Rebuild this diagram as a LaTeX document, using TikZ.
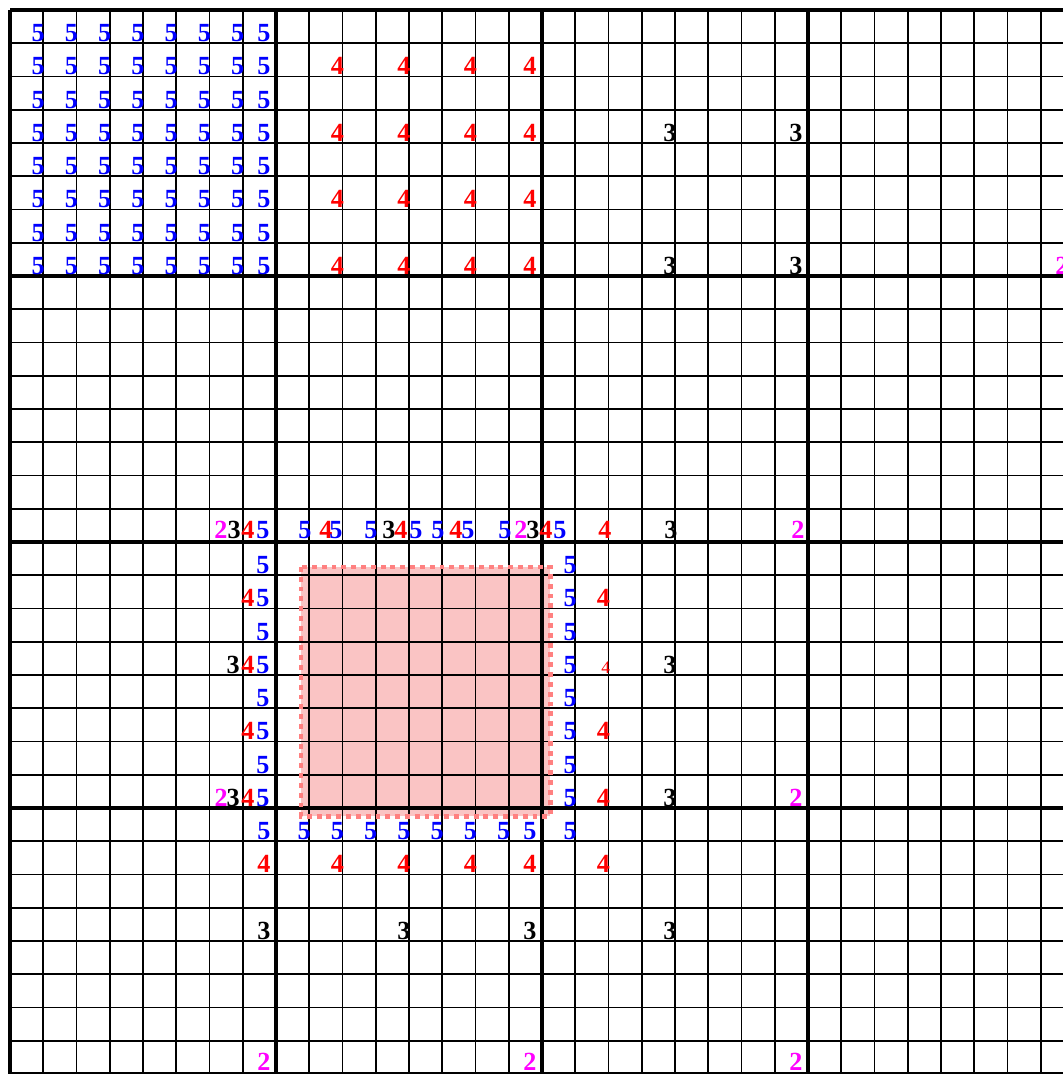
\documentclass[tikz,border=0pt]{standalone}
\usepackage{fontspec}
\setmainfont{Liberation Serif}
\newcommand{\digitfont}{\fontsize{11.2}{12}\selectfont\bfseries}
\definecolor{pinkfill}{RGB}{250,196,196}
\definecolor{pinkedge}{RGB}{255,128,128}
\definecolor{fiveblue}{RGB}{0,0,255}
\definecolor{fourred}{RGB}{255,0,0}
\definecolor{twomagenta}{RGB}{255,0,255}

\begin{document}
\begin{tikzpicture}[x=0.5cm, y=-0.5cm,
	thinline/.style={line width=0.75pt},
	thickline/.style={line width=1.8pt},
	digit/.style={anchor=base east, inner sep=0pt, font=\digitfont},
	lvfive/.style={digit, text=fiveblue},
	lvfour/.style={digit, text=fourred},
	lvthree/.style={digit, text=black},
	lvtwo/.style={digit, text=twomagenta}]
	
	\useasboundingbox (-0.3008,-0.3008) rectangle (31.669,32);
	\clip (-0.3008,-0.3008) rectangle (31.669,32);
	
	% Zielblock
	\fill[pinkfill] (8.75,16.75) rectangle (16.25,24.25);
	
	% feines Gitter
	\foreach \k in {0,...,32} {
		\draw[thinline] (\k,0) -- (\k,32);
		\draw[thinline] (0,\k) -- (32,\k);
	}
	% grobes Gitter
	\foreach \k in {0,8,...,32} {
		\draw[thickline] (\k,0) -- (\k,32);
		\draw[thickline] (0,\k) -- (32,\k);
	}
	
	% Rand Zielblock
	\draw[pinkedge, line width=2pt, dash pattern=on 2.1pt off 2.1pt] (8.75,16.75) rectangle (16.25,24.25);
	
	% Stufe 5 oben links
	\foreach \i in {1,...,8}
	\foreach \j in {1,...,8} {
		\pgfmathsetmacro{\px}{\i+ifthenelse(mod(\i,8)==0,-0.15,0.06)}
		\node[lvfive] (a5-\i-\j) at (\px,\j-0.05) {5};
	}
	% Stufe 4
	\foreach \i in {10,12,14,16}
	\foreach \j in {2,4,6,8} {
		\pgfmathsetmacro{\px}{\i+ifthenelse(mod(\i,8)==0,-0.15,0.06)}
		\node[lvfour] (a4-\i-\j) at (\px,\j-0.05) {4};
	}
	% Stufe 3
	\foreach \i in {20,24}
	\foreach \j in {4,8} {
		\pgfmathsetmacro{\px}{\i+ifthenelse(mod(\i,8)==0,-0.15,0.06)}
		\node[lvthree] (a3-\i-\j) at (\px,\j-0.05) {3};
	}
	% Stufe 2
	\node[lvtwo] (a2-32-8) at (31.85,7.95) {2};
	
	% Nachbarn oben
	\foreach \x/\s/\d [count=\k] in {6.556/lvtwo/2, 6.95/lvthree/3, 7.37/lvfour/4, 7.82/lvfive/5,
		9.083/lvfive/5, 9.714/lvfour/4, 10.015/lvfive/5, 11.068/lvfive/5,
		11.609/lvthree/3, 11.97/lvfour/4, 12.421/lvfive/5, 13.083/lvfive/5,
		13.624/lvfour/4, 13.985/lvfive/5, 15.098/lvfive/5, 15.579/lvtwo/2,
		15.94/lvthree/3, 16.331/lvfour/4, 16.752/lvfive/5, 18.105/lvfour/4,
		20.09/lvthree/3, 23.91/lvtwo/2}
	\node[\s] (top-\k) at (\x,15.9) {\d};
	
	% Nachbarn links
	\foreach \j in {17,...,24}
	\node[lvfive] (l5-\j) at (7.82,\j-0.05) {5};
	\foreach \j in {18,20,22,24}
	\node[lvfour] (l4-\j) at (7.37,\j-0.05) {4};
	\foreach \j in {20,24}
	\node[lvthree] (l3-\j) at (6.92,\j-0.05) {3};
	\node[lvtwo] (l2-24) at (6.56,23.95) {2};
	
	% Nachbarn rechts
	\foreach \j in {17,...,25}
	\node[lvfive] (r5-\j) at (17.06,\j-0.05) {5};
	\foreach \j in {18,22,24,26}
	\node[lvfour] (r4-\j) at (18.06,\j-0.05) {4};
	\node[lvfour, font=\fontsize{7.5}{8}\selectfont] (r4-20) at (18.06,19.95) {4};
	\foreach \j in {20,24,28}
	\node[lvthree] (r3-\j) at (20.06,\j-0.05) {3};
	\node[lvtwo] (r2-24) at (23.85,23.95) {2};
	\node[lvtwo] (r2-32) at (23.85,31.9) {2};
	
	% Nachbarn unten
	\foreach \i in {8,...,16} {
		\pgfmathsetmacro{\px}{\i+ifthenelse(mod(\i,8)==0,-0.15,0.06)}
		\node[lvfive] (b5-\i) at (\px,24.95) {5};
	}
	\foreach \i in {8,10,...,16} {
		\pgfmathsetmacro{\px}{\i+ifthenelse(mod(\i,8)==0,-0.15,0.06)}
		\node[lvfour] (b4-\i) at (\px,25.95) {4};
	}
	\foreach \i in {8,12,16} {
		\pgfmathsetmacro{\px}{\i+ifthenelse(mod(\i,8)==0,-0.15,0.06)}
		\node[lvthree] (b3-\i) at (\px,27.95) {3};
	}
	\foreach \i in {8,16} {
		\pgfmathsetmacro{\px}{\i+ifthenelse(mod(\i,8)==0,-0.15,0.06)}
		\node[lvtwo] (b2-\i) at (\px,31.9) {2};
	}
	
\end{tikzpicture}
\end{document}
